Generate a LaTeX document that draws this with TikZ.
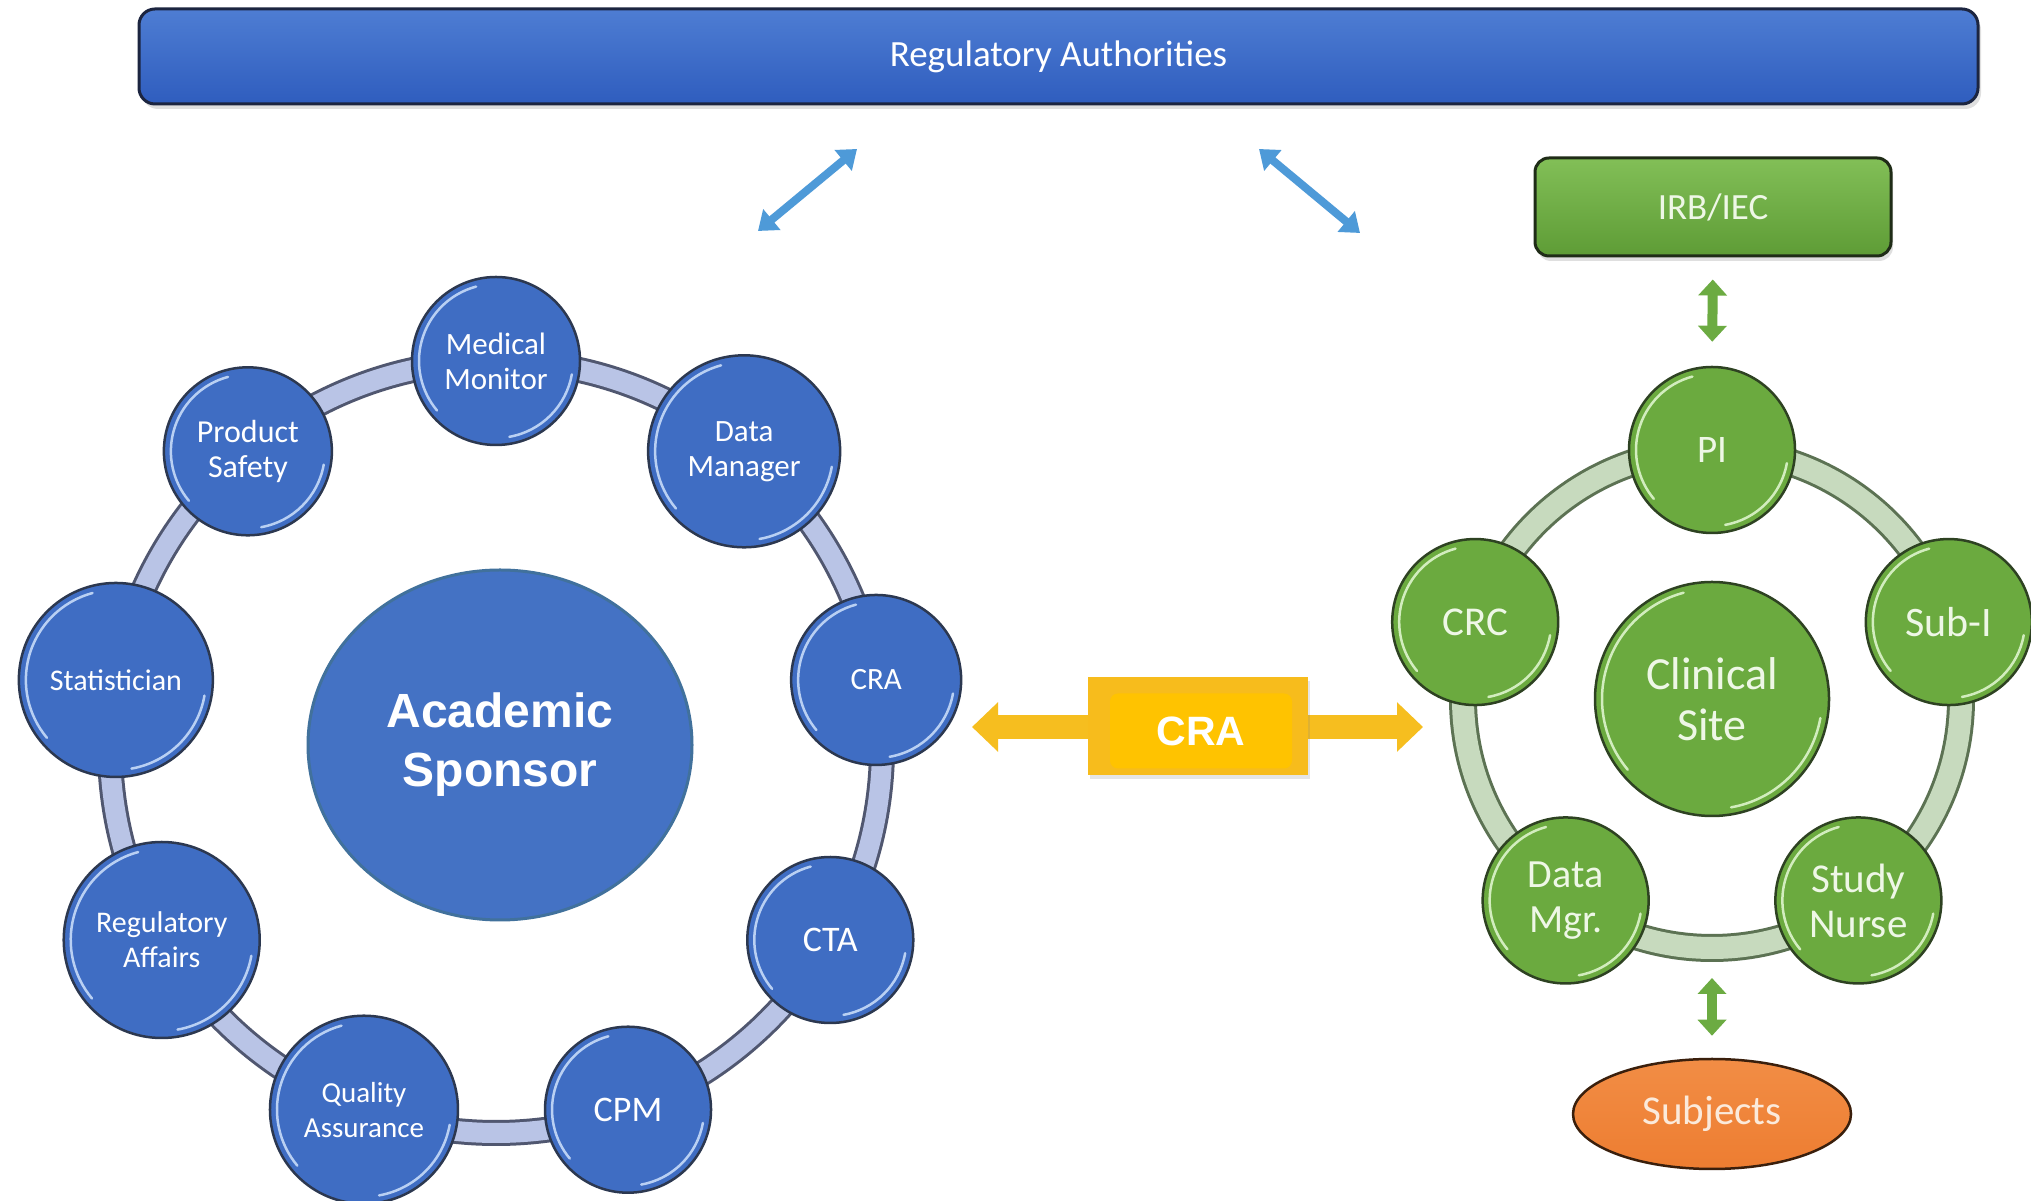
\documentclass[tikz,border=0pt]{standalone}
\usepackage{fontspec}
\setmainfont{Carlito}
\newfontfamily\arialfont{Liberation Sans}
\usetikzlibrary{arrows.meta,shapes.geometric,shadows,calc}
\definecolor{barTop}{HTML}{4E7DD3}
\definecolor{barBottom}{HTML}{2F5DBE}
\definecolor{barLine}{HTML}{1C2540}
\definecolor{satBlue}{HTML}{3F6DC3}
\definecolor{satBlueLine}{HTML}{2C3850}
\definecolor{hlBlue}{HTML}{B9D0F3}
\definecolor{ringBlue}{HTML}{B9C4E6}
\definecolor{ringBlueLine}{HTML}{505770}
\definecolor{sponsorBlue}{HTML}{4472C4}
\definecolor{sponsorLine}{HTML}{41719C}
\definecolor{arrowBlue}{HTML}{4E9AD8}
\definecolor{satGreen}{HTML}{6BAA3F}
\definecolor{satGreenLine}{HTML}{2E4222}
\definecolor{hlGreen}{HTML}{D2EDBE}
\definecolor{greenText}{HTML}{EEF7E6}
\definecolor{ringGreen}{HTML}{C7DABE}
\definecolor{ringGreenLine}{HTML}{5C7253}
\definecolor{arrowGreen}{HTML}{6CAB42}
\definecolor{irbTop}{HTML}{82BF57}
\definecolor{irbBottom}{HTML}{5E9C36}
\definecolor{irbLine}{HTML}{1F2C17}
\definecolor{subjFill}{HTML}{ED7D31}
\definecolor{subjTop}{HTML}{F28D45}
\definecolor{subjLine}{HTML}{3A1F0C}
\definecolor{subjText}{HTML}{FBEADB}
\definecolor{arrowYellow}{HTML}{F6BE1F}
\definecolor{boxYellow}{HTML}{F7BC1C}
\definecolor{innerYellow}{HTML}{FFC300}
\begin{document}
\begin{tikzpicture}[x=1pt,y=1pt,
  bluesat/.style={circle, draw=satBlueLine, line width=2.5pt, fill=satBlue, text=white, align=center, inner sep=0pt},
  greensat/.style={circle, draw=satGreenLine, line width=2.5pt, fill=satGreen, text=greenText, align=center, inner sep=0pt},
  hlblue/.style={draw=hlBlue, line width=2.5pt, line cap=round},
  hlgreen/.style={draw=hlGreen, line width=2.5pt, line cap=round},
  barrow/.style={draw=arrowBlue, line width=8pt, arrows={Triangle[length=18pt,width=26pt]-Triangle[length=18pt,width=26pt]}},
  garrow/.style={draw=arrowGreen, line width=10pt, arrows={Triangle[length=16pt,width=28pt]-Triangle[length=16pt,width=28pt]}},
  yarrow/.style={draw=arrowYellow, line width=24pt, arrows={Triangle[length=26pt,width=48pt]-Triangle[length=26pt,width=48pt]}},
  regbar/.style={rectangle, rounded corners=16pt, top color=barTop, bottom color=barBottom, draw=barLine, line width=3pt, minimum width=1839pt, minimum height=95pt, text=white, font=\fontsize{37}{44}\selectfont, drop shadow={opacity=0.25, shadow xshift=3pt, shadow yshift=-5pt}},
  irbbox/.style={rectangle, rounded corners=14pt, top color=irbTop, bottom color=irbBottom, draw=irbLine, line width=3pt, minimum width=356pt, minimum height=98pt, text=greenText, font=\fontsize{37}{44}\selectfont, drop shadow={opacity=0.25, shadow xshift=2pt, shadow yshift=-5pt}},
]
\useasboundingbox (0,0) rectangle (2031,1201);
\fill[white] (0,0) rectangle (2031,1201);

% Regulatory bar
\node[regbar] (reg) at (1058.5,1144.5) {Regulatory Authorities};

% light blue arrows
\coordinate (a1) at (758,970);
\coordinate (a2) at (857,1052);
\coordinate (a3) at (1259,1052);
\coordinate (a4) at (1360,968);
\draw[barrow] (a1) -- (a2);
\draw[barrow] (a3) -- (a4);

% ---------- Academic sponsor side ----------
\coordinate (brc) at (496,454);
\draw[line width=26pt, ringBlueLine] (brc) circle[radius=386];
\draw[line width=20pt, ringBlue] (brc) circle[radius=386];

\node[ellipse, fill=sponsorBlue, draw=sponsorLine, line width=3pt, minimum width=384pt, minimum height=350pt, inner sep=0pt, text=white, align=center,
      font=\arialfont\bfseries\fontsize{48}{59}\selectfont] (sponsor) at (500,456) {Academic\\Sponsor};

\foreach \nm/\ang/\rr/\fs/\txt in {mm/90/84/31/{Medical\\Monitor}, dm/50/96/31/{Data\\Manager}, cra/10/85/31/{CRA}, cta/-30/83/36/{CTA}, cpm/-70/83/36/{CPM}, qa/-110/94/29/{Quality\\Assurance}, ra/-150/98/30/{Regulatory\\Affairs}, st/170/97/30/{Statistician}, ps/130/84/32/{Product\\Safety}}{
  \node[bluesat, minimum size=2*\rr, font=\fontsize{\fs}{35}\selectfont] (\nm) at ($(brc)+(\ang:386)$) {\txt};
  \draw[hlblue] ($(\nm.center)+(105:{\rr-7})$) arc[start angle=105, end angle=220, radius=\rr-7];
  \draw[hlblue] ($(\nm.center)+(-80:{\rr-7})$) arc[start angle=-80, end angle=-10, radius=\rr-7];
}

% ---------- CRA yellow connector ----------
\coordinate (yl) at (972,474);
\coordinate (yr) at (1423,474);
\draw[yarrow] (yl) -- (yr);
\node[rectangle, fill=boxYellow, minimum width=220pt, minimum height=98pt, drop shadow={opacity=0.2, shadow xshift=2pt, shadow yshift=-4pt}] (crabox) at (1198,475) {};
\node[rectangle, rounded corners=8pt, fill=innerYellow, minimum width=182pt, minimum height=75pt, text=white, font=\arialfont\bfseries\fontsize{41}{48}\selectfont] (cralabel) at (1201,470) {CRA};

% ---------- Clinical site side ----------
\node[irbbox] (irb) at (1713,994) {IRB/IEC};

\coordinate (grc) at (1712,502);
\draw[line width=28pt, ringGreenLine] (grc) circle[radius=249];
\draw[line width=22pt, ringGreen] (grc) circle[radius=249];

\node[greensat, minimum size=234pt, font=\fontsize{46}{51}\selectfont] (site) at (grc) {Clinical\\Site};
\draw[hlgreen] ($(site.center)+(105:110)$) arc[start angle=105, end angle=220, radius=110];
\draw[hlgreen] ($(site.center)+(-80:110)$) arc[start angle=-80, end angle=-10, radius=110];

\foreach \nm/\ang/\fs/\txt in {pi/90/39/{PI}, sub/18/42/{Sub-I}, sn/-54/41/{Study\\Nurse}, dmg/-126/40/{Data\\Mgr.}, crc/162/41/{CRC}}{
  \node[greensat, minimum size=166pt, font=\fontsize{\fs}{45}\selectfont] (\nm) at ($(grc)+(\ang:249)$) {\txt};
  \draw[hlgreen] ($(\nm.center)+(105:76)$) arc[start angle=105, end angle=220, radius=76];
  \draw[hlgreen] ($(\nm.center)+(-80:76)$) arc[start angle=-80, end angle=-10, radius=76];
}

\node[ellipse, top color=subjTop, bottom color=subjFill, draw=subjLine, line width=2.5pt, minimum width=278pt, minimum height=110pt, inner sep=0pt, text=subjText,
      font=\fontsize{41}{48}\selectfont] (subj) at (1712,87) {Subjects};

\coordinate (gbot) at (1712,253);
\draw[garrow, shorten <=22pt, shorten >=24pt] (irb.south) -- (pi.north);
\draw[garrow, shorten <=30pt, shorten >=22pt] (gbot) -- (subj.north);
\end{tikzpicture}
\end{document}
